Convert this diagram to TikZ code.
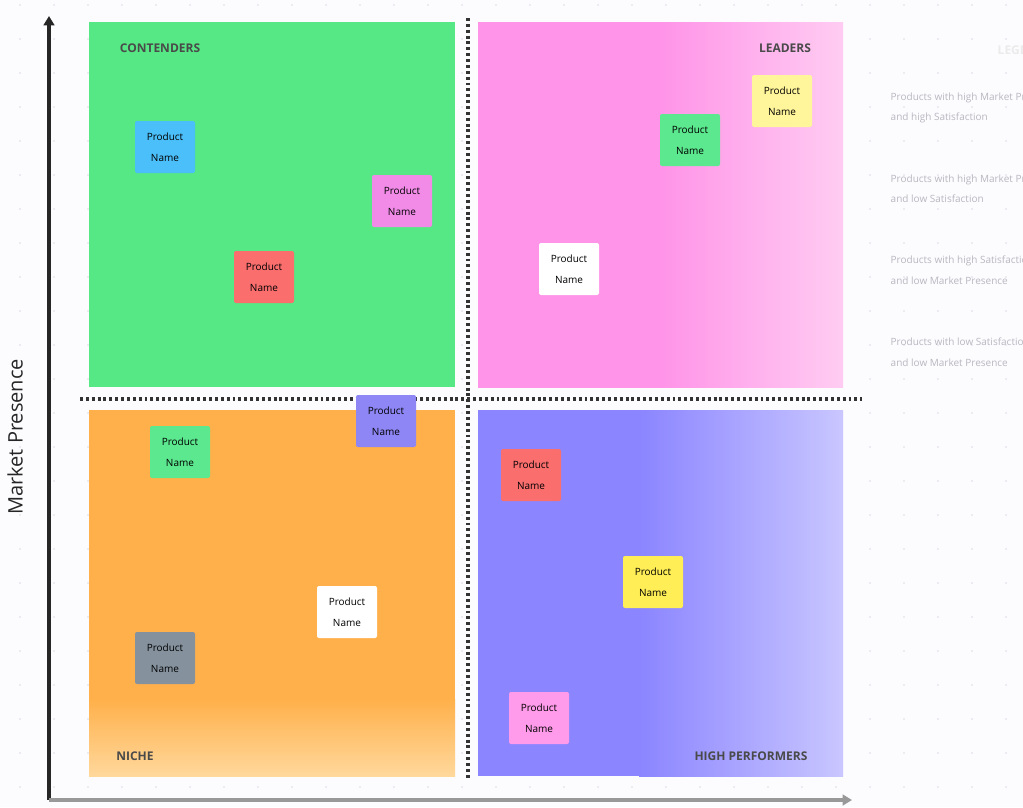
\documentclass[tikz,border=0pt]{standalone}
\usepackage{fontspec}
\setmainfont{Open Sans}
\usetikzlibrary{positioning,arrows.meta}

\definecolor{bgwhite}{HTML}{FCFBFE}
\definecolor{griddot}{HTML}{DCDCE4}
\definecolor{contgreen}{HTML}{55E884}
\definecolor{leadpink}{HTML}{FF94E8}
\definecolor{leadpinklt}{HTML}{FFCCF2}
\definecolor{nicheorange}{HTML}{FFB04A}
\definecolor{nicheorangelt}{HTML}{FFD89C}
\definecolor{highpurple}{HTML}{8B85FF}
\definecolor{highpurplelt}{HTML}{C9C6FF}
\definecolor{labelgray}{HTML}{4A4A4A}
\definecolor{legendgray}{HTML}{B8B8C0}
\definecolor{nblue}{HTML}{4BBFFA}
\definecolor{npink}{HTML}{F28BE8}
\definecolor{nred}{HTML}{FA6E6E}
\definecolor{ngreen}{HTML}{5BE88E}
\definecolor{nyellowlt}{HTML}{FFF59A}
\definecolor{npurple}{HTML}{8E86F5}
\definecolor{ngray}{HTML}{85929E}
\definecolor{nyellow}{HTML}{FFEE55}
\definecolor{npinklt}{HTML}{FF9BEA}

\tikzset{
  note/.style={minimum width=45pt, minimum height=39pt, rounded corners=1.5pt,
    align=center, font=\fontsize{7.5}{15.5}\selectfont, text=black},
  quadlabel/.style={font=\fontsize{9}{10}\selectfont\bfseries, text=labelgray},
  legendtext/.style={anchor=north west, align=left, text=legendgray,
    font=\fontsize{7.5}{15.5}\selectfont},
  divider/.style={line width=2.6pt, dash pattern=on 2.2pt off 2.2pt, black!80}
}

\begin{document}
\begin{tikzpicture}[x=0.75pt, y=-0.75pt]
  \clip (0,0) rectangle (1023,807);
  \fill[bgwhite] (0,0) rectangle (1023,807);
  \foreach \i in {0,...,30} {
    \foreach \j in {0,...,24} {
      \fill[griddot] (20+\i*34, 5+\j*34) circle (0.9);
    }
  }

  % quadrants
  \fill[contgreen] (89,22) rectangle (455,387);
  \shade[left color=leadpink, right color=leadpinklt, middle color=leadpink]
    (478,22) rectangle (843,387);
  \fill[nicheorange] (89,410) rectangle (455,700);
  \shade[top color=nicheorange, bottom color=nicheorangelt]
    (89,699) rectangle (455,776);
  \fill[highpurple] (478,410) rectangle (640,776);
  \shade[left color=highpurple, right color=highpurplelt]
    (639,410) rectangle (843,776);

  % dividers
  \coordinate (vtop) at (468,18);
  \coordinate (vbot) at (468,778);
  \coordinate (hleft) at (80,399);
  \coordinate (hright) at (862,399);
  \draw[divider] (vtop) -- (vbot);
  \draw[divider] (hleft) -- (hright);

  % axes
  \coordinate (origin) at (49,800);
  \coordinate (ytip) at (49,16);
  \coordinate (xtip) at (852,800);
  \draw[line width=2.4pt, black!85, -{Triangle[length=7pt,width=8pt]}] (origin) -- (ytip);
  \draw[line width=2.4pt, black!40, -{Triangle[length=7pt,width=8pt]}] (origin) -- (xtip);
  \node[rotate=90, font=\fontsize{15}{16}\selectfont, text=black!85] (ylabel) at (15,437) {Market Presence};

  % quadrant labels
  \node[quadlabel] (contenders) at (160,48) {CONTENDERS};
  \node[quadlabel] (leaders)    at (785,48) {LEADERS};
  \node[quadlabel] (niche)      at (135,756) {NICHE};
  \node[quadlabel] (highperf)   at (751,756) {HIGH PERFORMERS};

  % products
  \node[note, fill=nblue]     (p1)  at (165,147) {Product\\Name};
  \node[note, fill=npink]     (p2)  at (402,201) {Product\\Name};
  \node[note, fill=nred]      (p3)  at (264,277) {Product\\Name};
  \node[note, fill=ngreen]    (p4)  at (690,140) {Product\\Name};
  \node[note, fill=nyellowlt] (p5)  at (782,101) {Product\\Name};
  \node[note, fill=white]     (p6)  at (569,269) {Product\\Name};
  \node[note, fill=npurple]   (p7)  at (386,421) {Product\\Name};
  \node[note, fill=ngreen]    (p8)  at (180,452) {Product\\Name};
  \node[note, fill=white]     (p9)  at (347,612) {Product\\Name};
  \node[note, fill=ngray]     (p10) at (165,658) {Product\\Name};
  \node[note, fill=nred]      (p11) at (531,475) {Product\\Name};
  \node[note, fill=nyellow]   (p12) at (653,582) {Product\\Name};
  \node[note, fill=npinklt]   (p13) at (539,718) {Product\\Name};

  % legend
  \node[text=black!8, font=\fontsize{9}{10}\selectfont\bfseries, anchor=west] (legtitle) at (993,50) {LEGEND};
  \node[legendtext] (leg1) at (886,88)  {Products with high Market Presence\\and high Satisfaction};
  \node[legendtext] (leg2) at (886,170) {Products with high Market Presence\\and low Satisfaction};
  \node[legendtext] (leg3) at (886,251) {Products with high Satisfaction\\and low Market Presence};
  \node[legendtext] (leg4) at (886,333) {Products with low Satisfaction\\and low Market Presence};
\end{tikzpicture}
\end{document}
